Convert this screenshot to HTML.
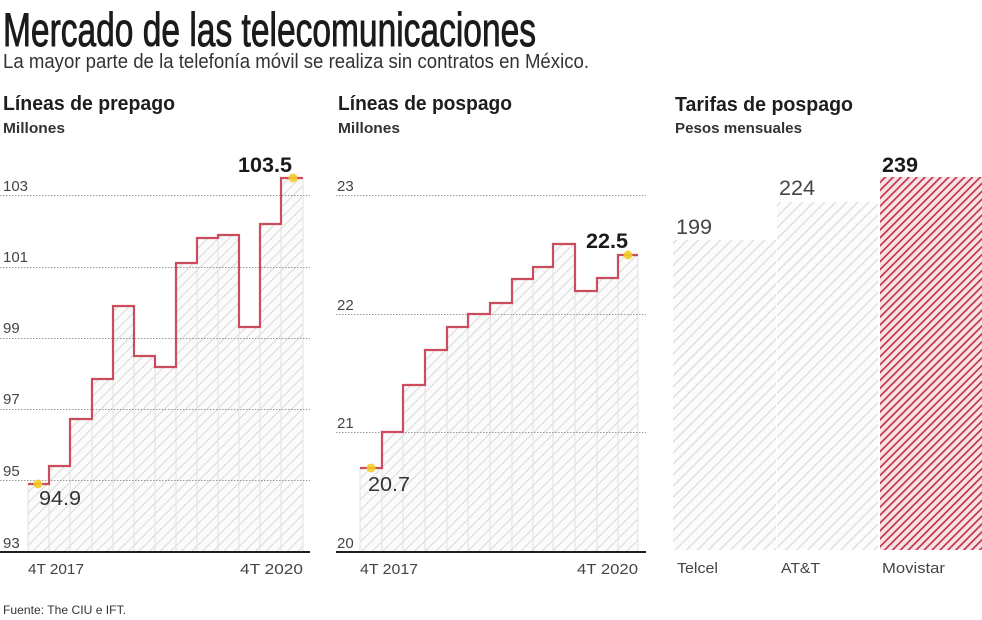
<!DOCTYPE html>
<html>
<head>
<meta charset="utf-8">
<style>
html,body{margin:0;padding:0;background:#fff;}
svg{display:block;}
text{font-family:"Liberation Sans",sans-serif;}
</style>
</head>
<body>
<svg width="982" height="620" viewBox="0 0 982 620" xmlns="http://www.w3.org/2000/svg">
<defs>
  <pattern id="hatch" patternUnits="userSpaceOnUse" width="7.5" height="7.5" patternTransform="rotate(45)">
    <rect width="7.5" height="7.5" fill="#fbfbfb"/>
    <line x1="0" y1="0" x2="0" y2="7.5" stroke="#d9d9d9" stroke-width="2"/>
  </pattern>
  <pattern id="hatch2" patternUnits="userSpaceOnUse" width="7.8" height="7.8" patternTransform="rotate(45)">
    <rect width="7.8" height="7.8" fill="#fcfcfc"/>
    <line x1="0" y1="0" x2="0" y2="7.8" stroke="#dcdcdc" stroke-width="2.6"/>
  </pattern>
  <pattern id="red" patternUnits="userSpaceOnUse" width="5.6" height="5.6" patternTransform="rotate(45)">
    <rect width="5.6" height="5.6" fill="#f7e2e5"/>
    <line x1="0" y1="0" x2="0" y2="5.6" stroke="#c0364b" stroke-width="3.4"/>
  </pattern>
</defs>

<rect width="982" height="620" fill="#fff"/>

<!-- Title -->
<text x="3" y="46" font-size="47" fill="#1b1b1b" stroke="#1b1b1b" stroke-width="0.9" textLength="533" lengthAdjust="spacingAndGlyphs">Mercado de las telecomunicaciones</text>
<text x="3" y="68" font-size="20" fill="#333" textLength="586" lengthAdjust="spacingAndGlyphs">La mayor parte de la telefonía móvil se realiza sin contratos en México.</text>

<!-- Headings -->
<text x="3" y="110" font-size="20" font-weight="bold" fill="#1e1e1e" textLength="172" lengthAdjust="spacingAndGlyphs">Líneas de prepago</text>
<text x="3" y="133" font-size="15" font-weight="bold" fill="#333" textLength="62" lengthAdjust="spacingAndGlyphs">Millones</text>
<text x="338" y="110" font-size="20" font-weight="bold" fill="#1e1e1e" textLength="174" lengthAdjust="spacingAndGlyphs">Líneas de pospago</text>
<text x="338" y="133" font-size="15" font-weight="bold" fill="#333" textLength="62" lengthAdjust="spacingAndGlyphs">Millones</text>
<text x="675" y="111" font-size="20" font-weight="bold" fill="#1e1e1e" textLength="178" lengthAdjust="spacingAndGlyphs">Tarifas de pospago</text>
<text x="675" y="133" font-size="15" font-weight="bold" fill="#333" textLength="127" lengthAdjust="spacingAndGlyphs">Pesos mensuales</text>

<!-- ===== LEFT CHART ===== -->
<path d="M28,484 H49 V466 H70 V419 H92 V379 H113 V306 H134 V356 H155 V367 H176 V263 H197 V238 H218 V235 H239 V327 H260 V224 H281 V178 H303 V552 H28 Z" fill="url(#hatch)"/>
<g stroke="#e2e2e2" stroke-width="1">
  <line x1="28" y1="484" x2="28" y2="552"/>
  <line x1="49" y1="466" x2="49" y2="552"/>
  <line x1="70" y1="419" x2="70" y2="552"/>
  <line x1="92" y1="379" x2="92" y2="552"/>
  <line x1="113" y1="306" x2="113" y2="552"/>
  <line x1="134" y1="356" x2="134" y2="552"/>
  <line x1="155" y1="367" x2="155" y2="552"/>
  <line x1="176" y1="263" x2="176" y2="552"/>
  <line x1="197" y1="238" x2="197" y2="552"/>
  <line x1="218" y1="235" x2="218" y2="552"/>
  <line x1="239" y1="327" x2="239" y2="552"/>
  <line x1="260" y1="224" x2="260" y2="552"/>
  <line x1="281" y1="178" x2="281" y2="552"/>
  <line x1="303" y1="178" x2="303" y2="552"/>
</g>
<g stroke="#9a9a9a" stroke-width="1" stroke-dasharray="1.5,1.5">
  <line x1="0" y1="195.5" x2="310" y2="195.5"/>
  <line x1="0" y1="267.5" x2="310" y2="267.5"/>
  <line x1="0" y1="338.5" x2="310" y2="338.5"/>
  <line x1="0" y1="409.5" x2="310" y2="409.5"/>
  <line x1="0" y1="480.5" x2="310" y2="480.5"/>
</g>
<path d="M28,484 H49 V466 H70 V419 H92 V379 H113 V306 H134 V356 H155 V367 H176 V263 H197 V238 H218 V235 H239 V327 H260 V224 H281 V178 H303" fill="none" stroke="#c94d5d" stroke-width="2.2"/>
<line x1="0" y1="552" x2="310" y2="552" stroke="#1e1e1e" stroke-width="2"/>
<g font-size="15" fill="#444">
  <text x="3" y="191">103</text>
  <text x="3" y="262">101</text>
  <text x="3" y="333">99</text>
  <text x="3" y="404">97</text>
  <text x="3" y="476">95</text>
  <text x="3" y="548">93</text>
  <text x="28" y="574" textLength="56" lengthAdjust="spacingAndGlyphs">4T 2017</text>
  <text x="240" y="574" textLength="63" lengthAdjust="spacingAndGlyphs">4T 2020</text>
</g>
<circle cx="38" cy="484" r="4.5" fill="#f3cc2a" opacity="0.9"/>
<circle cx="293" cy="178" r="4.5" fill="#f3cc2a" opacity="0.9"/>
<text x="39" y="505" font-size="20" fill="#333" textLength="42" lengthAdjust="spacingAndGlyphs">94.9</text>
<text x="238" y="172" font-size="21" font-weight="bold" fill="#1a1a1a" textLength="54" lengthAdjust="spacingAndGlyphs">103.5</text>

<!-- ===== MIDDLE CHART ===== -->
<path d="M360,468 H382 V432 H403 V385 H425 V350 H447 V327 H468 V314 H490 V303 H512 V279 H533 V267 H553 V244 H575 V291 H597 V278 H618 V255 H638 V552 H360 Z" fill="url(#hatch)"/>
<g stroke="#e2e2e2" stroke-width="1">
  <line x1="360" y1="468" x2="360" y2="552"/>
  <line x1="382" y1="432" x2="382" y2="552"/>
  <line x1="403" y1="385" x2="403" y2="552"/>
  <line x1="425" y1="350" x2="425" y2="552"/>
  <line x1="447" y1="327" x2="447" y2="552"/>
  <line x1="468" y1="314" x2="468" y2="552"/>
  <line x1="490" y1="303" x2="490" y2="552"/>
  <line x1="512" y1="279" x2="512" y2="552"/>
  <line x1="533" y1="267" x2="533" y2="552"/>
  <line x1="553" y1="244" x2="553" y2="552"/>
  <line x1="575" y1="291" x2="575" y2="552"/>
  <line x1="597" y1="278" x2="597" y2="552"/>
  <line x1="618" y1="255" x2="618" y2="552"/>
  <line x1="638" y1="255" x2="638" y2="552"/>
</g>
<g stroke="#9a9a9a" stroke-width="1" stroke-dasharray="1.5,1.5">
  <line x1="336" y1="195.5" x2="646" y2="195.5"/>
  <line x1="336" y1="314.5" x2="646" y2="314.5"/>
  <line x1="336" y1="432.5" x2="646" y2="432.5"/>
</g>
<path d="M360,468 H382 V432 H403 V385 H425 V350 H447 V327 H468 V314 H490 V303 H512 V279 H533 V267 H553 V244 H575 V291 H597 V278 H618 V255 H638" fill="none" stroke="#c94d5d" stroke-width="2.2"/>
<line x1="336" y1="552" x2="646" y2="552" stroke="#1e1e1e" stroke-width="2"/>
<g font-size="15" fill="#444">
  <text x="337" y="191">23</text>
  <text x="337" y="310">22</text>
  <text x="337" y="428">21</text>
  <text x="337" y="548">20</text>
  <text x="360" y="574" textLength="58" lengthAdjust="spacingAndGlyphs">4T 2017</text>
  <text x="577" y="574" textLength="61" lengthAdjust="spacingAndGlyphs">4T 2020</text>
</g>
<circle cx="371" cy="468" r="4.5" fill="#f3cc2a" opacity="0.9"/>
<circle cx="628" cy="255" r="4.5" fill="#f3cc2a" opacity="0.9"/>
<text x="368" y="491" font-size="20" fill="#333" textLength="42" lengthAdjust="spacingAndGlyphs">20.7</text>
<text x="586" y="248" font-size="21" font-weight="bold" fill="#1a1a1a" textLength="42" lengthAdjust="spacingAndGlyphs">22.5</text>

<!-- ===== RIGHT CHART ===== -->
<rect x="673" y="240" width="103" height="310" fill="url(#hatch2)"/>
<rect x="777" y="202" width="101" height="348" fill="url(#hatch2)"/>
<rect x="880" y="177" width="102" height="373" fill="url(#red)"/>
<text x="676" y="234" font-size="21" fill="#444" textLength="36" lengthAdjust="spacingAndGlyphs">199</text>
<text x="779" y="195" font-size="21" fill="#444" textLength="36" lengthAdjust="spacingAndGlyphs">224</text>
<text x="882" y="172" font-size="21" font-weight="bold" fill="#1a1a1a" textLength="36" lengthAdjust="spacingAndGlyphs">239</text>
<g font-size="15" fill="#444">
  <text x="677" y="573" textLength="41" lengthAdjust="spacingAndGlyphs">Telcel</text>
  <text x="781" y="573" textLength="39" lengthAdjust="spacingAndGlyphs">AT&amp;T</text>
  <text x="882" y="573" textLength="63" lengthAdjust="spacingAndGlyphs">Movistar</text>
</g>

<!-- Footer -->
<text x="3" y="614" font-size="12" fill="#333" textLength="123" lengthAdjust="spacingAndGlyphs">Fuente: The CIU e IFT.</text>
</svg>
</body>
</html>
